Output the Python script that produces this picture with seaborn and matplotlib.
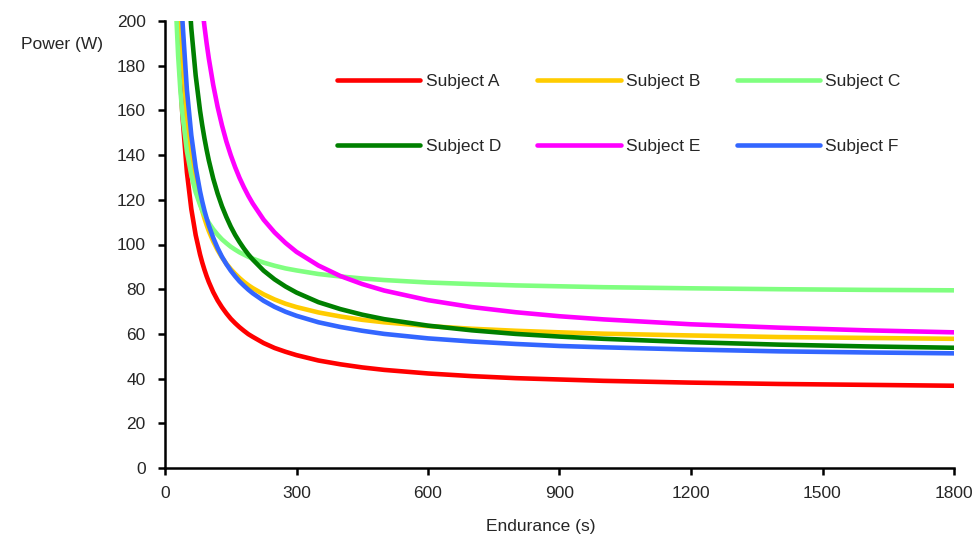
import pandas as pd
import seaborn as sns
import matplotlib
matplotlib.use("Agg")
import matplotlib.pyplot as plt

endurance = [20, 25, 30, 35, 40, 50, 60, 70, 80, 85, 90, 95, 100, 110, 120, 130, 140, 150, 160, 170,
             180, 190, 200, 225, 250, 275, 300, 350, 400, 450, 500, 600, 700, 800, 900, 1000,
             1200, 1400, 1600, 1800]

# Power (W) for each subject
subject_a = [279.6, 230.5, 197.8, 174.4, 156.9, 132.3, 115.9, 104.2, 95.5, 91.9, 88.7, 85.8, 83.2, 78.7,
             75.0, 71.9, 69.2, 66.8, 64.8, 63.0, 61.4, 59.9, 58.7, 55.9, 53.7, 52.0, 50.5, 48.1, 46.4,
             45.0, 43.9, 42.3, 41.1, 40.2, 39.6, 39.0, 38.2, 37.6, 37.2, 36.8]
subject_b = [310.0, 259.0, 225.0, 200.7, 182.5, 157.0, 140.0, 127.9, 118.8, 115.0, 111.7, 108.7, 106.0,
             101.4, 97.5, 94.2, 91.4, 89.0, 86.9, 85.0, 83.3, 81.8, 80.5, 77.7, 75.4, 73.5, 72.0, 69.6,
             67.8, 66.3, 65.2, 63.5, 62.3, 61.4, 60.7, 60.1, 59.3, 58.6, 58.2, 57.8]
subject_c = [237.7, 205.7, 184.4, 169.1, 157.7, 141.7, 131.0, 123.4, 117.7, 115.3, 113.3, 111.4, 109.7,
             106.8, 104.4, 102.3, 100.6, 99.0, 97.7, 96.5, 95.5, 94.5, 93.7, 91.9, 90.5, 89.3, 88.4, 86.8,
             85.7, 84.8, 84.1, 83.0, 82.3, 81.7, 81.3, 80.9, 80.4, 80.0, 79.7, 79.5]
subject_d = [492.4, 403.7, 344.6, 302.3, 270.7, 226.3, 196.7, 175.6, 159.8, 153.3, 147.5, 142.3, 137.6,
             129.5, 122.8, 117.1, 112.3, 108.0, 104.3, 101.1, 98.2, 95.6, 93.3, 88.3, 84.4, 81.2, 78.5,
             74.2, 71.1, 68.6, 66.6, 63.7, 61.6, 60.0, 58.8, 57.8, 56.3, 55.2, 54.4, 53.8]
subject_e = [702.0, 572.3, 485.8, 424.1, 377.8, 312.9, 269.7, 238.8, 215.6, 206.1, 197.6, 190.0, 183.2,
             171.4, 161.6, 153.3, 146.1, 140.0, 134.6, 129.8, 125.6, 121.8, 118.4, 111.1, 105.4, 100.7,
             96.7, 90.6, 85.9, 82.3, 79.4, 75.1, 72.0, 69.7, 67.9, 66.5, 64.3, 62.8, 61.6, 60.7]
subject_f = [350.9, 290.3, 249.9, 221.0, 199.4, 169.1, 148.9, 134.5, 123.7, 119.2, 115.2, 111.7, 108.5,
             103.0, 98.4, 94.5, 91.2, 88.3, 85.8, 83.5, 81.6, 79.8, 78.2, 74.8, 72.1, 69.9, 68.1, 65.2,
             63.1, 61.4, 60.0, 58.0, 56.6, 55.5, 54.6, 54.0, 53.0, 52.2, 51.7, 51.3]

subjects = ["Subject A", "Subject B", "Subject C", "Subject D", "Subject E", "Subject F"]
colors = ["#FF0000", "#FFCC00", "#80FF80", "#008000", "#FF00FF", "#3366FF"]

series = [subject_a, subject_b, subject_c, subject_d, subject_e, subject_f]
df = pd.concat([pd.DataFrame({"t": endurance, "power": vals, "subject": name})
                for name, vals in zip(subjects, series)], ignore_index=True)

sns.set_style("ticks")
plt.rcParams["font.family"] = ["Liberation Sans", "DejaVu Sans"]
fs = 12.5

fig = plt.figure(figsize=(9.78, 5.4), dpi=100)
ax = fig.add_axes([165 / 978, 1 - 468 / 540, (954 - 165) / 978, (468 - 21) / 540])

sns.lineplot(data=df, x="t", y="power", hue="subject", hue_order=subjects,
             palette=dict(zip(subjects, colors)), linewidth=3.3, ax=ax, legend=True)

ax.set_xlim(0, 1800)
ax.set_ylim(0, 200)
ax.set_xticks(range(0, 1801, 300))
ax.set_yticks(range(0, 201, 20))
ax.tick_params(axis="both", labelsize=fs, length=5, width=1.8, color="black", direction="out")
ax.tick_params(axis="x", pad=8)
ax.tick_params(axis="y", pad=9)
for s in ["top", "right"]:
    ax.spines[s].set_visible(False)
for s in ["left", "bottom"]:
    ax.spines[s].set_linewidth(1.8)
    ax.spines[s].set_color("black")

ax.set_xlabel("")
ax.set_ylabel("")
fig.text(62 / 978, 1 - 45 / 540, "Power (W)", fontsize=fs, ha="center", va="center")
fig.text(541 / 978, 1 - 527 / 540, "Endurance (s)", fontsize=fs, ha="center", va="center")

# rebuild the legend: row-major order A B C / D E F
old = ax.get_legend()
handles = old.legend_handles
labels = [t.get_text() for t in old.texts]
old.remove()
order = [0, 3, 1, 4, 2, 5]
ax.legend([handles[i] for i in order], [labels[i] for i in order], ncol=3, frameon=False,
          fontsize=fs, loc="upper left", bbox_to_anchor=(337 / 978, 1 - 74 / 540),
          bbox_transform=fig.transFigure, borderaxespad=0, borderpad=0,
          handlelength=4.8, handletextpad=0.3, columnspacing=2.1, labelspacing=2.85)

fig.savefig("out.png", dpi=100)
